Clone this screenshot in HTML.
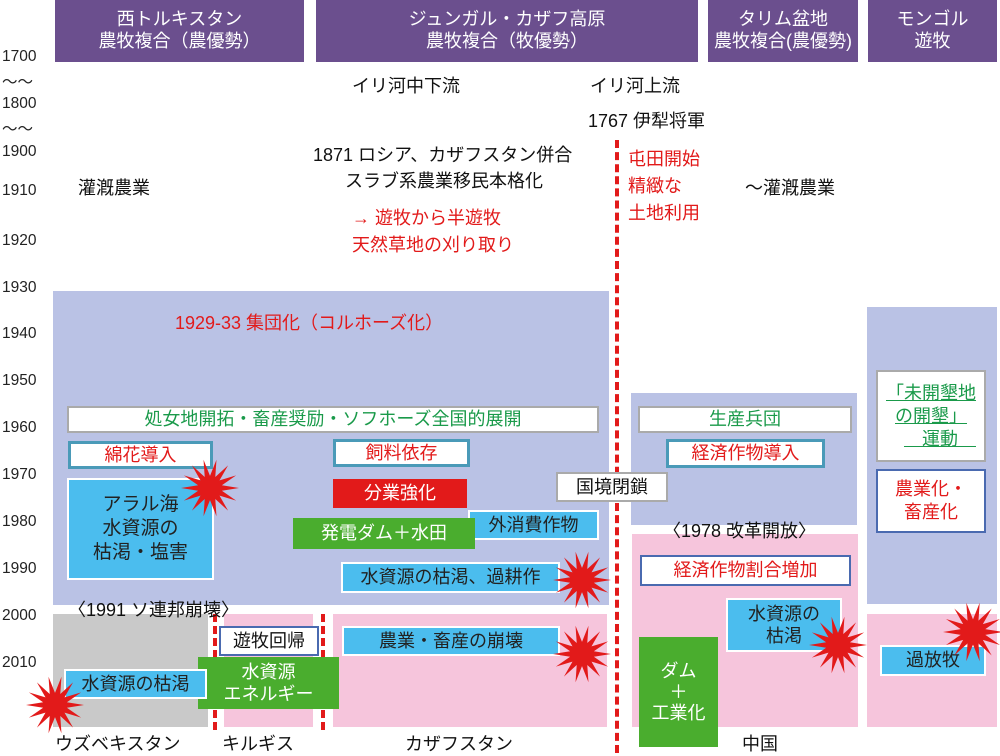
<!DOCTYPE html>
<html><head><meta charset="utf-8"><style>
body{margin:0;width:1000px;height:753px;position:relative;background:#fff;overflow:hidden;font-family:"Liberation Sans","Noto Sans CJK JP",sans-serif;}
.a{position:absolute;box-sizing:border-box;}
.h{background:#6b4f8e;color:#fff;text-align:center;font-size:18px;line-height:22px;padding-top:8px;top:0;height:62px;}
.y{position:absolute;left:2px;font-size:15.5px;color:#222;}
.t{position:absolute;font-size:18px;color:#111;white-space:nowrap;}
.r{color:#e21a1a}
.b{position:absolute;box-sizing:border-box;display:flex;align-items:center;justify-content:center;text-align:center;font-size:18px;line-height:23px;white-space:nowrap;}
.wg{background:#fff;border:2px solid #aaa;color:#1a9a4a}
.wt{background:#fff;border:3px solid #4a9ab8;color:#e21a1a}
.bl{background:#4bbdee;border:2px solid #fff;color:#222}
.gr{background:#4aad2e;color:#fff}
.vd{position:absolute;width:0;border-left:4px dashed #e21a1a;}
</style></head><body>
<div class="a h" style="left:55px;width:249px">西トルキスタン<br>農牧複合（農優勢）</div>
<div class="a h" style="left:316px;width:382px">ジュンガル・カザフ高原<br>農牧複合（牧優勢）</div>
<div class="a h" style="left:708px;width:150px">タリム盆地<br>農牧複合(農優勢)</div>
<div class="a h" style="left:868px;width:129px">モンゴル<br>遊牧</div>

<div class="y" style="top:48px">1700</div><div class="y" style="top:70px">～～</div>
<div class="y" style="top:95px">1800</div><div class="y" style="top:117px">～～</div>
<div class="y" style="top:143px">1900</div><div class="y" style="top:182px">1910</div>
<div class="y" style="top:232px">1920</div><div class="y" style="top:279px">1930</div>
<div class="y" style="top:325px">1940</div><div class="y" style="top:372px">1950</div>
<div class="y" style="top:419px">1960</div><div class="y" style="top:466px">1970</div>
<div class="y" style="top:513px">1980</div><div class="y" style="top:560px">1990</div>
<div class="y" style="top:607px">2000</div><div class="y" style="top:654px">2010</div>

<div class="a" style="left:53px;top:291px;width:556px;height:314px;background:#bac2e5"></div>
<div class="a" style="left:53px;top:614px;width:155px;height:113px;background:#c9c9c9"></div>
<div class="a" style="left:224px;top:614px;width:89px;height:113px;background:#f6c5dc"></div>
<div class="a" style="left:333px;top:614px;width:274px;height:113px;background:#f6c5dc"></div>
<div class="a" style="left:631px;top:393px;width:226px;height:132px;background:#bac2e5"></div>
<div class="a" style="left:632px;top:534px;width:226px;height:193px;background:#f6c5dc"></div>
<div class="a" style="left:867px;top:307px;width:130px;height:297px;background:#bac2e5"></div>
<div class="a" style="left:867px;top:614px;width:130px;height:113px;background:#f6c5dc"></div>

<div class="t" style="left:352px;top:72px">イリ河中下流</div>
<div class="t" style="left:590px;top:72px">イリ河上流</div>
<div class="t" style="left:588px;top:107px">1767 伊犁将軍</div>
<div class="t" style="left:313px;top:141px">1871 ロシア、カザフスタン併合</div>
<div class="t" style="left:345px;top:167px">スラブ系農業移民本格化</div>
<div class="t r" style="left:352px;top:204px">→ 遊牧から半遊牧</div>
<div class="t r" style="left:352px;top:231px">天然草地の刈り取り</div>
<div class="t r" style="left:628px;top:146px;line-height:27px">屯田開始<br>精緻な<br>土地利用</div>
<div class="t" style="left:78px;top:174px">灌漑農業</div>
<div class="t" style="left:745px;top:174px">～灌漑農業</div>
<div class="t r" style="left:175px;top:309px">1929-33 集団化（コルホーズ化）</div>

<div class="vd" style="left:615px;top:140px;height:613px"></div>
<div class="vd" style="left:213px;top:614px;height:116px"></div>
<div class="vd" style="left:321px;top:614px;height:116px"></div>

<div class="b wg" style="left:67px;top:406px;width:532px;height:27px">処女地開拓・畜産奨励・ソフホーズ全国的展開</div>
<div class="b wt" style="left:68px;top:441px;width:145px;height:28px">綿花導入</div>
<div class="b bl" style="left:67px;top:478px;width:147px;height:102px;font-size:19px;line-height:24px">アラル海<br>水資源の<br>枯渇・塩害</div>
<div class="b wt" style="left:333px;top:439px;width:137px;height:28px">飼料依存</div>
<div class="b" style="left:333px;top:479px;width:134px;height:29px;background:#e21a1a;color:#fff">分業強化</div>
<div class="b bl" style="left:468px;top:510px;width:131px;height:30px">外消費作物</div>
<div class="b gr" style="left:293px;top:518px;width:182px;height:31px">発電ダム＋水田</div>
<div class="b bl" style="left:341px;top:562px;width:219px;height:31px">水資源の枯渇、過耕作</div>
<div class="t" style="left:68px;top:596px">〈1991 ソ連邦崩壊〉</div>
<div class="b" style="left:219px;top:626px;width:100px;height:30px;background:#fff;border:2px solid #4a6ab0;color:#111">遊牧回帰</div>
<div class="b gr" style="left:198px;top:657px;width:141px;height:52px;line-height:22px">水資源<br>エネルギー</div>
<div class="b bl" style="left:64px;top:669px;width:143px;height:30px">水資源の枯渇</div>
<div class="b bl" style="left:342px;top:626px;width:218px;height:30px">農業・畜産の崩壊</div>

<div class="b" style="left:556px;top:472px;width:112px;height:30px;background:#fff;border:2px solid #aaa;color:#111">国境閉鎖</div>
<div class="b wg" style="left:638px;top:406px;width:214px;height:27px">生産兵団</div>
<div class="b wt" style="left:666px;top:439px;width:159px;height:29px">経済作物導入</div>
<div class="t" style="left:663px;top:517px">〈1978 改革開放〉</div>
<div class="b" style="left:640px;top:555px;width:211px;height:31px;background:#fff;border:2px solid #4a6ab0;color:#e21a1a">経済作物割合増加</div>
<div class="b bl" style="left:726px;top:598px;width:116px;height:54px;line-height:22px">水資源の<br>枯渇</div>
<div class="b gr" style="left:639px;top:637px;width:79px;height:110px;line-height:21px">ダム<br>＋<br>工業化</div>
<div class="b" style="left:876px;top:370px;width:110px;height:92px;background:#fff;border:2px solid #aaa;color:#1a9a4a;line-height:23px"><span style="text-decoration:underline">「未開墾地<br>の開墾」<br>　運動　</span></div>
<div class="b" style="left:876px;top:469px;width:110px;height:64px;background:#fff;border:2px solid #4a6ab0;color:#e21a1a">農業化・<br>畜産化</div>
<div class="b bl" style="left:880px;top:645px;width:106px;height:31px">過放牧</div>

<div class="t" style="left:55px;top:730px">ウズベキスタン</div>
<div class="t" style="left:222px;top:730px">キルギス</div>
<div class="t" style="left:405px;top:730px">カザフスタン</div>
<div class="t" style="left:742px;top:730px">中国</div>

<svg class="a" style="left:0;top:0" width="1000" height="753">
<defs><symbol id="s" viewBox="-1 -1 2 2"><polygon fill="#e21a1a" points="1,0 .41,.094 .901,.434 .328,.262 .623,.782 .182,.379 .223,.975 0,.42 -.223,.975 -.182,.379 -.623,.782 -.328,.262 -.901,.434 -.41,.094 -1,0 -.41,-.094 -.901,-.434 -.328,-.262 -.623,-.782 -.182,-.379 -.223,-.975 0,-.42 .223,-.975 .182,-.379 .623,-.782 .328,-.262 .901,-.434 .41,-.094"/></symbol></defs>
<use href="#s" x="181" y="459" width="58" height="58"/>
<use href="#s" x="553" y="551" width="58" height="58"/>
<use href="#s" x="553" y="625" width="58" height="58"/>
<use href="#s" x="26" y="676" width="58" height="58"/>
<use href="#s" x="809" y="616" width="58" height="58"/>
<use href="#s" x="943" y="602" width="60" height="60"/>
</svg>
</body></html>
